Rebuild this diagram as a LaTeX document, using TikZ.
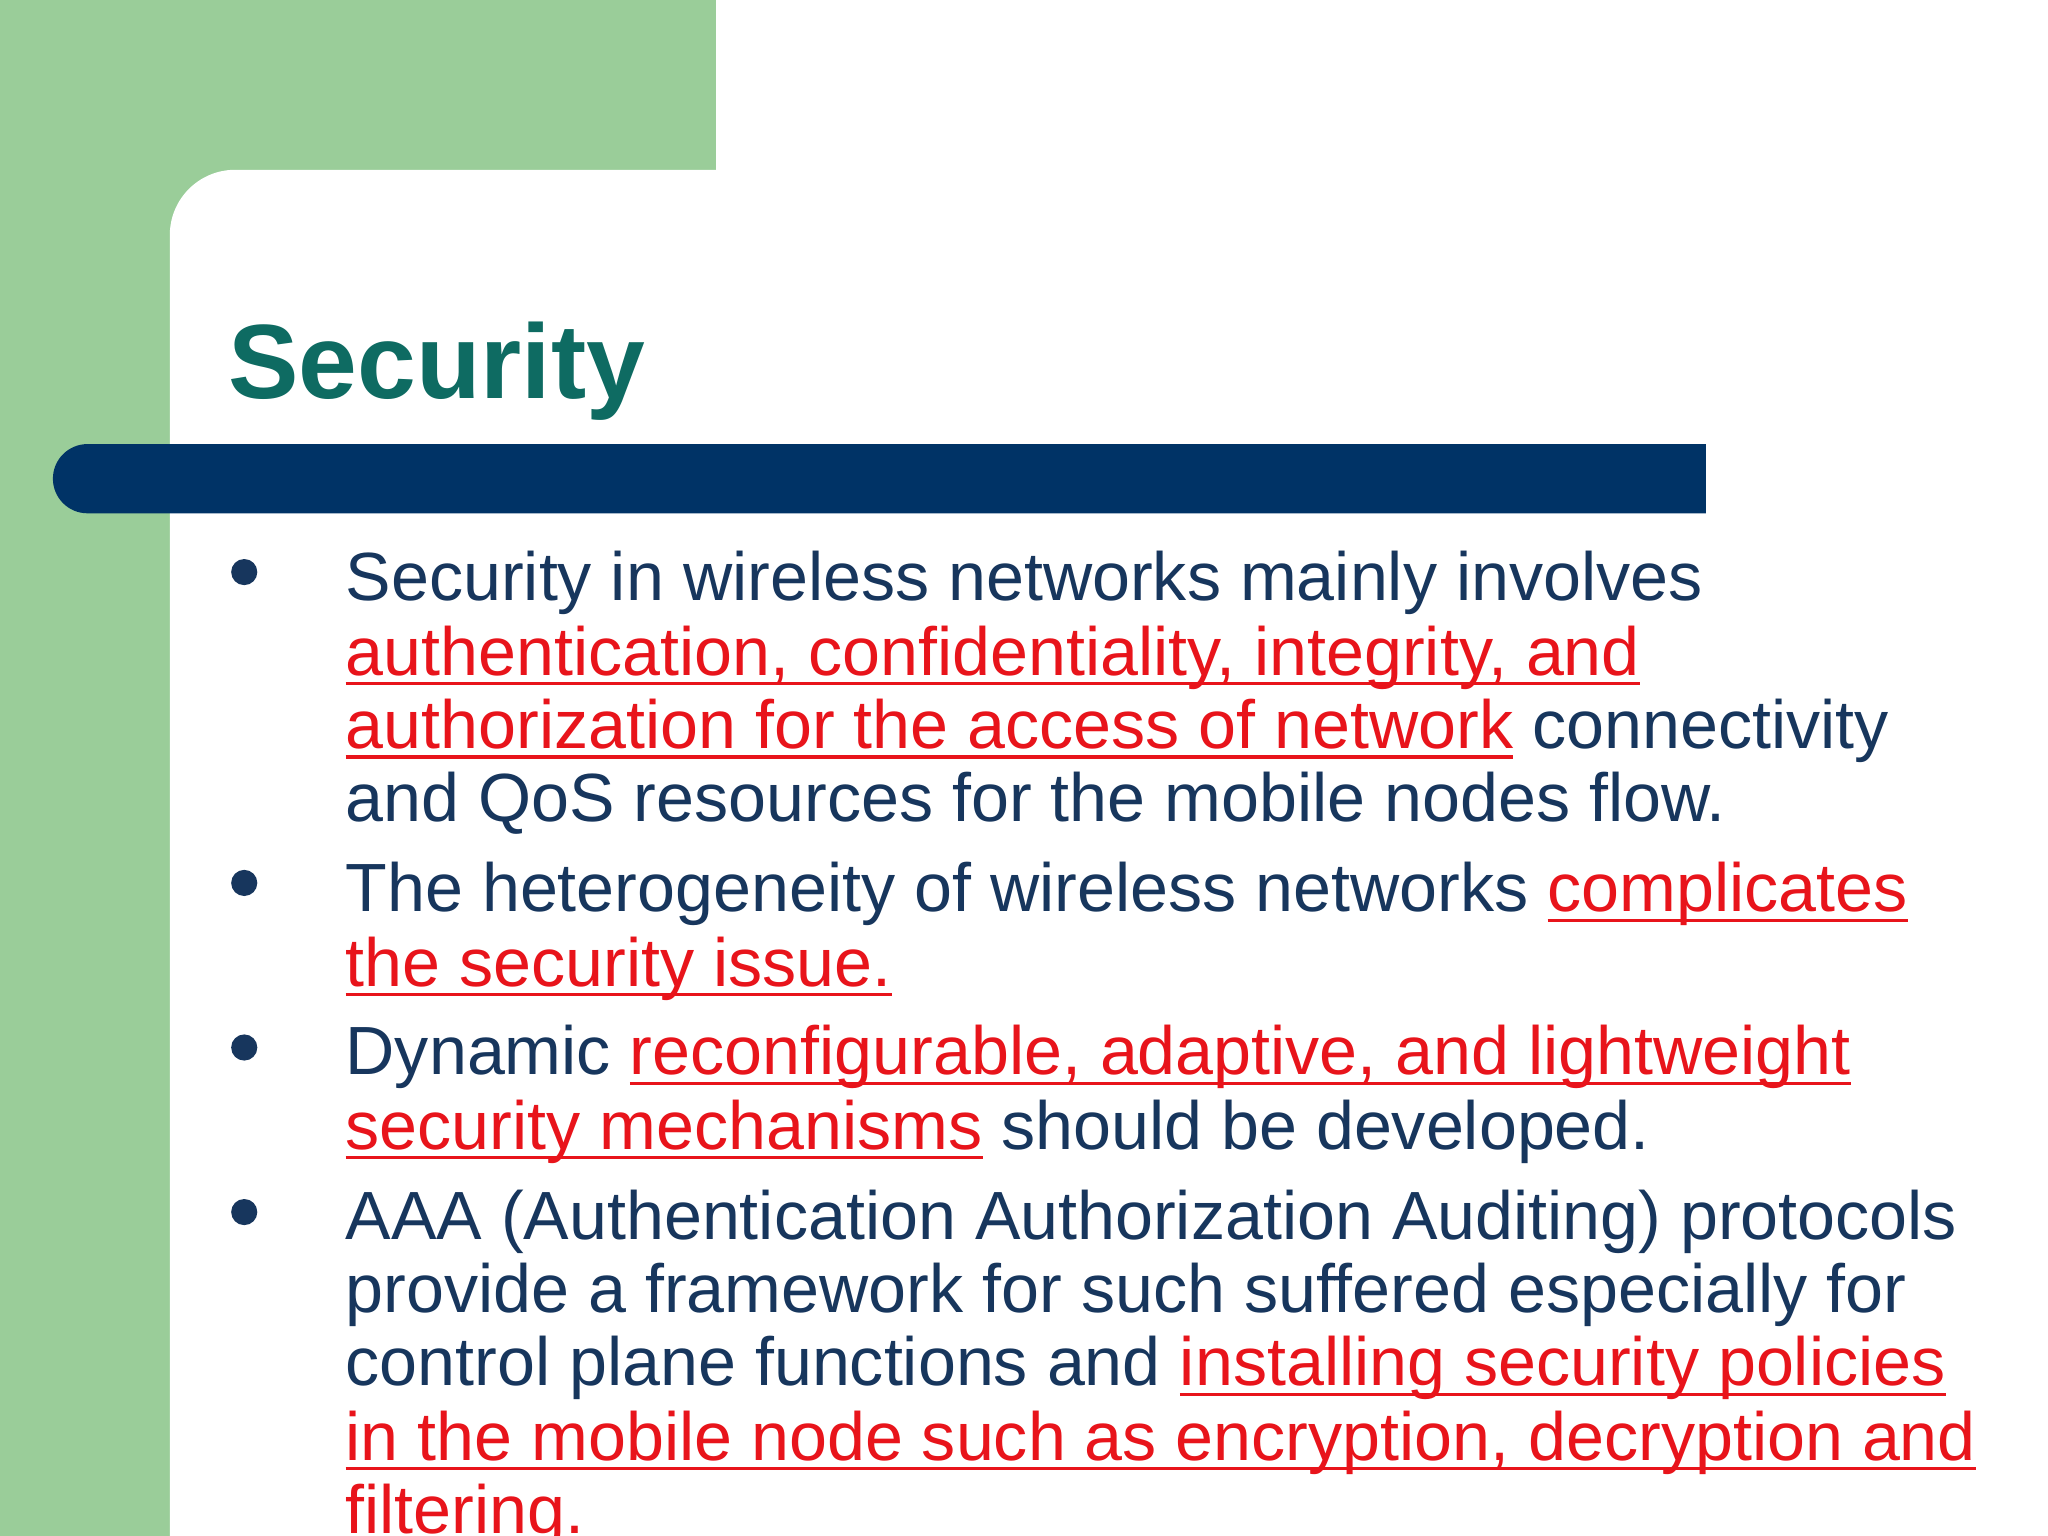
\documentclass[tikz,border=0pt]{standalone}
\usepackage{fontspec}
\setmainfont{Liberation Sans}
\definecolor{bggreen}{HTML}{9ACD99}
\definecolor{barblue}{HTML}{003366}
\definecolor{txt}{HTML}{17365D}
\definecolor{redt}{HTML}{E8141B}
\definecolor{titlec}{HTML}{0E6B62}
\newcommand{\rl}[1]{{\color{redt}\setbox0\hbox{#1}\rlap{\rule[-2.2pt]{\wd0}{0.7pt}}\box0}}
\tikzset{ln/.style={anchor=base west,inner sep=0,text=txt,font=\fontsize{14.85pt}{16pt}\selectfont},
bul/.style={circle,fill=txt,minimum size=0.2cm,inner sep=0}}
\begin{document}
\begin{tikzpicture}[x=0.01cm,y=-0.01cm]
\useasboundingbox (0,0) rectangle (1568,1176);
\fill[white] (0,0) rectangle (1568,1176);
\fill[bggreen] (0,0) rectangle (548,1176);
\fill[white] (130,1176) -- (130,180) arc[start angle=180,end angle=270,radius=50] -- (1568,130) -- (1568,1176) -- cycle;
\fill[barblue] (1306,340) -- (67,340) arc[start angle=270,end angle=90,radius=26.5] -- (1306,393) -- cycle;
\node[anchor=base west,inner sep=0,text=titlec,font=\bfseries\fontsize{23pt}{28pt}\selectfont] (title) at (174,305) {Security};
\node[bul] (b1) at (187,438) {};
\node[bul] (b2) at (187,676) {};
\node[bul] (b3) at (187,802) {};
\node[bul] (b4) at (187,928) {};
\node[ln] (l1) at (264,460) {Security in wireless networks mainly involves};
\node[ln] (l2) at (264,517) {\rl{authentication, confidentiality, integrity, and}};
\node[ln] (l3) at (264,573) {\rl{authorization for the access of network} connectivity};
\node[ln] (l4) at (264,629) {and QoS resources for the mobile nodes flow.};
\node[ln] (l5) at (264,698) {The heterogeneity of wireless networks \rl{complicates}};
\node[ln] (l6) at (264,755) {\rl{the security issue.}};
\node[ln] (l7) at (264,823) {Dynamic \rl{reconfigurable, adaptive, and lightweight}};
\node[ln] (l8) at (264,880) {\rl{security mechanisms} should be developed.};
\node[ln] (l9) at (264,949) {AAA (Authentication Authorization Auditing) protocols};
\node[ln] (l10) at (264,1005) {provide a framework for such suffered especially for};
\node[ln] (l11) at (264,1061) {control plane functions and \rl{installing security policies}};
\node[ln] (l12) at (264,1118) {\rl{in the mobile node such as encryption, decryption and}};
\node[ln] (l13) at (264,1174) {\rl{filtering.}};
\end{tikzpicture}
\end{document}
